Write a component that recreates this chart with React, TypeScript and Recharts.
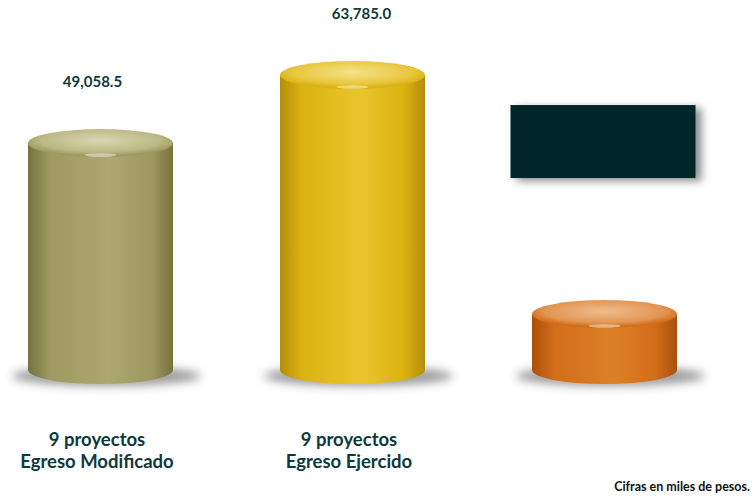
import React from "react";
import { BarChart, Bar, XAxis, YAxis, Cell, LabelList } from "recharts";

const categoryLine1 = ["9 proyectos", "9 proyectos", ""];
const categoryLine2 = ["Egreso Modificado", "Egreso Ejercido", ""];
const values = [49058.5, 63785.0, 12100];
const valueLabels = ["49,058.5", "63,785.0", ""];

const palettes = [
  { dark: "#77733f", mid: "#9d9960", light: "#aca86f", top: "#bcb985", topLight: "#d8d6b3" },
  { dark: "#b38e08", mid: "#dcb212", light: "#e9c52c", top: "#e8c73e", topLight: "#f5e28a" },
  { dark: "#a8500c", mid: "#d26d18", light: "#dd8128", top: "#e29553", topLight: "#efbd8f" },
];
const labelShiftX = [-8, 9, 0];

const data = categoryLine1.map((c, i) => ({
  line1: c,
  line2: categoryLine2[i],
  key: String(i),
  value: values[i],
  label: valueLabels[i],
}));

const TEXT = "#0e3a3a";
const FONT = "Lato, 'Open Sans', sans-serif";

const Cylinder = (props: any) => {
  const { x, y, width, height, index } = props;
  const p = palettes[index % palettes.length];
  const rx = width / 2;
  const ry = 14;
  const cx = x + rx;
  const bottom = y + height;
  const id = `cyl${index}`;
  return (
    <g>
      <defs>
        <linearGradient id={`${id}b`} x1="0" y1="0" x2="1" y2="0">
          <stop offset="0%" stopColor={p.dark} />
          <stop offset="15%" stopColor={p.mid} />
          <stop offset="55%" stopColor={p.light} />
          <stop offset="85%" stopColor={p.mid} />
          <stop offset="100%" stopColor={p.dark} />
        </linearGradient>
        <radialGradient id={`${id}t`} cx="0.5" cy="0.4" r="0.55">
          <stop offset="0%" stopColor={p.topLight} />
          <stop offset="75%" stopColor={p.top} />
          <stop offset="100%" stopColor={p.mid} />
        </radialGradient>
        <filter id={`${id}s`} x="-30%" y="-200%" width="160%" height="500%">
          <feGaussianBlur stdDeviation="5" />
        </filter>
      </defs>
      <ellipse cx={cx + 6} cy={bottom + 6} rx={rx + 22} ry={10} fill="#7a7a7a" opacity={0.75} filter={`url(#${id}s)`} />
      <path
        d={`M${x},${y} L${x},${bottom} A${rx},${ry} 0 0 0 ${x + width},${bottom} L${x + width},${y} Z`}
        fill={`url(#${id}b)`}
      />
      <ellipse cx={cx} cy={y} rx={rx} ry={ry} fill={`url(#${id}t)`} />
      <ellipse cx={cx} cy={y + ry - 2} rx={rx * 0.22} ry={1.8} fill="#ffffff" opacity={0.45} />
    </g>
  );
};

const ValueLabel = (props: any) => {
  const { x, y, width, index, value } = props;
  const cx = x + width / 2;
  if (index === 2) {
    return (
      <g>
        <defs>
          <filter id="boxShadow" x="-20%" y="-30%" width="140%" height="160%">
            <feDropShadow dx="6" dy="3" stdDeviation="4" floodColor="#000" floodOpacity="0.45" />
          </filter>
        </defs>
        <rect x={cx - 94} y={y - 209} width={185} height={73} fill="#03272a" filter="url(#boxShadow)" />
      </g>
    );
  }
  return (
    <text
      x={cx + labelShiftX[index]}
      y={y - 56}
      textAnchor="middle"
      fontFamily={FONT}
      fontWeight={700}
      fontSize={15}
      fill={TEXT}
    >
      {value}
    </text>
  );
};

const CategoryTick = (props: any) => {
  const { x, y, payload } = props;
  const d = data[payload.index];
  if (!d) return null;
  return (
    <g>
      <text x={x - 3} y={y + 68} textAnchor="middle" fontFamily={FONT} fontWeight={700} fontSize={18.5} fill={TEXT}>
        {d.line1}
      </text>
      <text x={x - 3} y={y + 90} textAnchor="middle" fontFamily={FONT} fontWeight={700} fontSize={18.5} fill={TEXT}>
        {d.line2}
      </text>
    </g>
  );
};

export default function App() {
  return (
    <div style={{ position: "fixed", left: 0, top: 0, width: 753, height: 499, overflow: "hidden", background: "#fff" }}>
      <div style={{ position: "absolute", left: -26, top: 0 }}>
        <BarChart width={790} height={499} data={data} margin={{ top: 0, right: 34, bottom: 99, left: 0 }}>
          <YAxis hide domain={[0, 80000]} />
          <XAxis dataKey="key" height={30} axisLine={false} tickLine={false} tick={<CategoryTick />} />
          <Bar dataKey="value" barSize={145} shape={<Cylinder />} isAnimationActive={false}>
            {data.map((d, i) => (
              <Cell key={i} fill={palettes[i].mid} />
            ))}
            <LabelList dataKey="label" content={<ValueLabel />} />
          </Bar>
        </BarChart>
      </div>
      <div
        style={{
          position: "absolute",
          right: 3,
          top: 480,
          whiteSpace: "nowrap",
          fontFamily: FONT,
          fontWeight: 700,
          fontSize: 12.5,
          lineHeight: "14px",
          color: "#111",
        }}
      >
        Cifras en miles de pesos.
      </div>
    </div>
  );
}
